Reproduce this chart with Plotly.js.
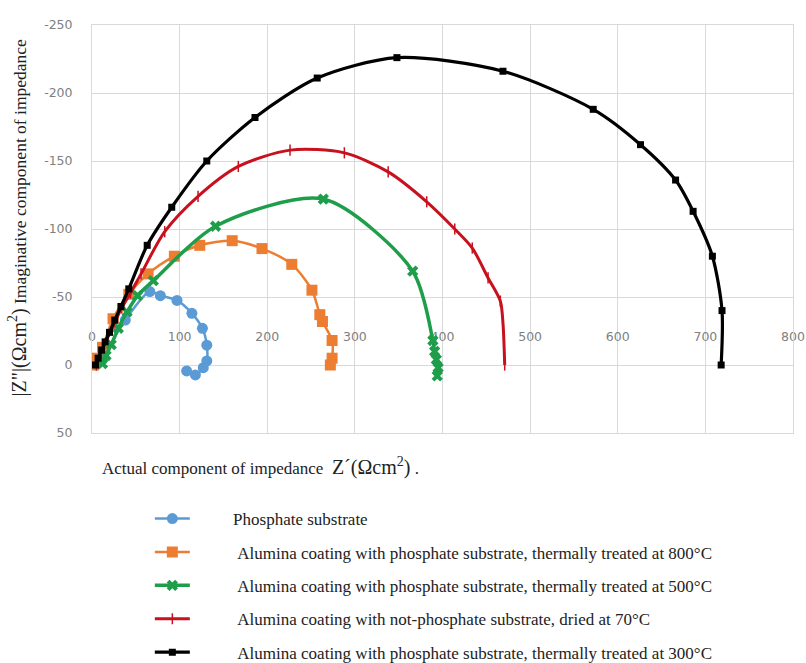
<!DOCTYPE html>
<html>
<head>
<meta charset="utf-8">
<script src="https://cdn.plot.ly/plotly-3.0.1.min.js"></script>
<style>html,body{margin:0;padding:0;background:#fff;}#chart{width:806px;height:663px;}</style>
</head>
<body>
<div id="chart"></div>
<script>
// ---- data ----
var seriesNames = [
  "Phosphate substrate",
  "Alumina coating with phosphate substrate, thermally treated at 800°C",
  "Alumina coating with phosphate substrate, thermally treated at 500°C",
  "Alumina coating with not-phosphate substrate, dried at 70°C",
  "Alumina coating with phosphate substrate, thermally treated at 300°C"
];

var blueX = [12, 38, 66, 78, 97, 114, 126, 131, 131, 127, 118, 108];
var blueY = [-4, -33, -54, -51, -47.5, -38, -27, -14.6, -3, 2, 7.3, 4.4];

var orangeX = [2, 6, 12, 24, 42, 64, 94, 123, 160, 194, 228, 251, 260, 263, 274, 274, 272];
var orangeY = [0, -5, -13, -34, -52, -67, -80, -88, -91.4, -85.6, -74, -55, -37, -32, -18, -5, 0];

var greenX = [12, 16, 22, 30, 40, 52, 70, 141, 264, 366, 389, 391, 393, 395, 394];
var greenY = [-1, -7, -15, -27, -39, -51, -62, -102, -122, -69, -18, -10, -4, 2, 8];

var redX = [5, 10, 17, 25, 34, 44, 56, 83, 121, 167, 226, 288, 338, 382, 414, 434, 452, 466, 469, 471];
var redY = [0, -8, -19, -30, -42, -53, -67, -98, -124, -146, -158, -156, -142, -120, -100, -86, -64, -47, -31, 0];

var blackX = [4, 7, 11, 15, 20, 26, 33, 42, 63, 91, 131, 186, 257, 348, 469, 572, 626, 666, 686, 708, 719, 718];
var blackY = [0, -5, -11, -17, -24, -33, -43, -56, -88, -116, -150, -182, -211, -226, -216, -188, -162, -136, -113, -80, -40, 0];

var xTickVals = [0, 100, 200, 300, 400, 500, 600, 700, 800];
var xTickText = ["0", "100", "200", "300", "400", "500", "600", "700", "800"];
var yTickVals = [-250, -200, -150, -100, -50, 0, 50];
var yTickText = ["-250", "-200", "-150", "-100", "-50", "0", "50"];

// ---- traces ----
var tickLabelRowY = -20; // Excel draws the category labels just above the zero line
var legendIndent = ['\u00a0\u00a0\u00a0\u00a0\u00a0\u00a0\u00a0\u00a0\u00a0',
  '\u00a0\u00a0\u00a0\u00a0\u00a0\u00a0\u00a0\u00a0\u00a0\u00a0'];
var traces = [];
traces.push({
  x: xTickVals, y: xTickVals.map(function(){return tickLabelRowY;}),
  text: xTickText, mode: 'text', type: 'scatter',
  textfont: {family: 'DejaVu Sans', size: 12.5, color: '#7f7f7f'},
  showlegend: false, hoverinfo: 'skip', cliponaxis: false
});
function series(i, xs, ys, color, lw, sym, msize, mline) {
  return {
    x: xs, y: ys, name: (i === 0 ? legendIndent[0] : legendIndent[1]) + seriesNames[i],
    type: 'scatter', mode: 'lines+markers',
    legendgroup: 'g' + i,
    line: {color: color, width: lw, shape: 'spline', smoothing: 0.8},
    marker: {color: color, symbol: sym, size: msize, line: mline || {width: 0}}
  };
}
traces.push(series(0, blueX, blueY, '#5B9BD5', 2.5, 'circle', 11));
traces.push(series(1, orangeX, orangeY, '#ED7D31', 2.5, 'square', 11));
traces.push(series(2, greenX, greenY, '#1E9E4A', 3.5, 'x', 10));
traces.push(series(3, redX, redY, '#C8101E', 3, 'line-ns-open', 8, {color: '#C8101E', width: 1.5}));
traces.push(series(4, blackX, blackY, '#000000', 3.2, 'square', 7));

var layout = {
  width: 806, height: 663,
  margin: {l: 92, r: 13, t: 25, b: 230},
  paper_bgcolor: '#fff', plot_bgcolor: '#fff',
  font: {family: 'Liberation Serif', color: '#222'},
  xaxis: {
    range: [0, 800], tickvals: xTickVals, showticklabels: false, ticks: '',
    showgrid: true, gridcolor: '#d9d9d9', gridwidth: 1, zeroline: false,
    showline: true, linecolor: '#d9d9d9', mirror: true
  },
  yaxis: {
    range: [50, -250], tickvals: yTickVals, ticktext: yTickText, ticks: '',
    tickfont: {family: 'DejaVu Sans', size: 12.5, color: '#7f7f7f'},
    ticklabelstandoff: 16,
    showgrid: true, gridcolor: '#d9d9d9', gridwidth: 1, zeroline: false,
    showline: true, linecolor: '#d9d9d9', mirror: true
  },
  showlegend: true,
  legend: {
    xref: 'paper', yref: 'container',
    x: 58 / 703, y: (663 - 501) / 663, xanchor: 'left', yanchor: 'top',
    orientation: 'v', traceorder: 'grouped', tracegroupgap: 8.3,
    font: {family: 'Liberation Serif', size: 17, color: '#222'},
    itemwidth: 35, bgcolor: 'rgba(0,0,0,0)'
  },
  annotations: [
    {
      xref: 'paper', yref: 'paper', x: -0.105, y: 0.527, xanchor: 'center', yanchor: 'middle',
      textangle: -90, showarrow: false,
      text: '<span style="font-size:20px">|Z"|(Ωcm<sup>2</sup>)</span> Imaginative component of impedance',
      font: {family: 'Liberation Serif', size: 17.5, color: '#222'}
    },
    {
      xref: 'paper', yref: 'paper', x: 0.011, y: -0.083, xanchor: 'left', yanchor: 'middle',
      showarrow: false,
      text: 'Actual component of impedance  <span style="font-size:20px">Z´(Ωcm<sup>2</sup>)</span> .',
      font: {family: 'Liberation Serif', size: 17, color: '#222'}
    }
  ]
};

Plotly.newPlot('chart', traces, layout, {displayModeBar: false, staticPlot: true});
</script>
</body>
</html>
